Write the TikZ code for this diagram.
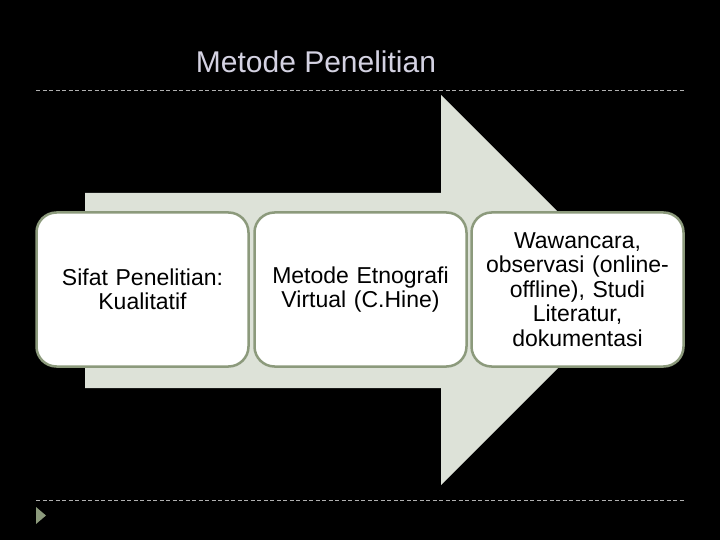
\documentclass[tikz,border=0pt]{standalone}
\usepackage{fontspec}
\setmainfont{Liberation Sans}
\definecolor{arrowfill}{HTML}{DDE2D8}
\definecolor{boxline}{HTML}{8C9A7C}
\definecolor{titlecol}{HTML}{D4D2E2}
\definecolor{dashcol}{HTML}{B0B0B0}
\begin{document}
\begin{tikzpicture}[x=1pt,y=-1pt,
  card/.style={draw=boxline,line width=2.5pt,fill=white,rounded corners=20pt,
    minimum width=212pt,minimum height=154pt,align=center,font=\fontsize{23}{24.5}\selectfont,inner sep=0pt,text width=210pt},
  sep/.style={dashcol,dashed,line width=0.8pt,dash pattern=on 4pt off 2.5pt}]
\fill[black] (0,0) rectangle (720,540);
\useasboundingbox (0,0) rectangle (720,540);
\node[titlecol,font=\fontsize{30}{34}\selectfont] (title) at (316,62) {Metode Penelitian};
\draw[sep] (36,90) -- (685,90);
\draw[sep] (36,500) -- (685,500);
\fill[boxline] (36,507) -- (46,515.5) -- (36,524) -- cycle;
\fill[arrowfill] (85,193) -- (441,193) -- (441,95) -- (636,290) -- (441,485) -- (441,388) -- (85,388) -- cycle;
\node[card] (b1) at (142.5,289.5) {Sifat Penelitian:\\Kualitatif};
\node[card] (b2) at (360.5,289.5) {Metode Etnografi\\Virtual (C.Hine)};
\node[card] (b3) at (577.5,289.5) {Wawancara,\\observasi (online-\\offline), Studi\\Literatur,\\dokumentasi};
\end{tikzpicture}
\end{document}
